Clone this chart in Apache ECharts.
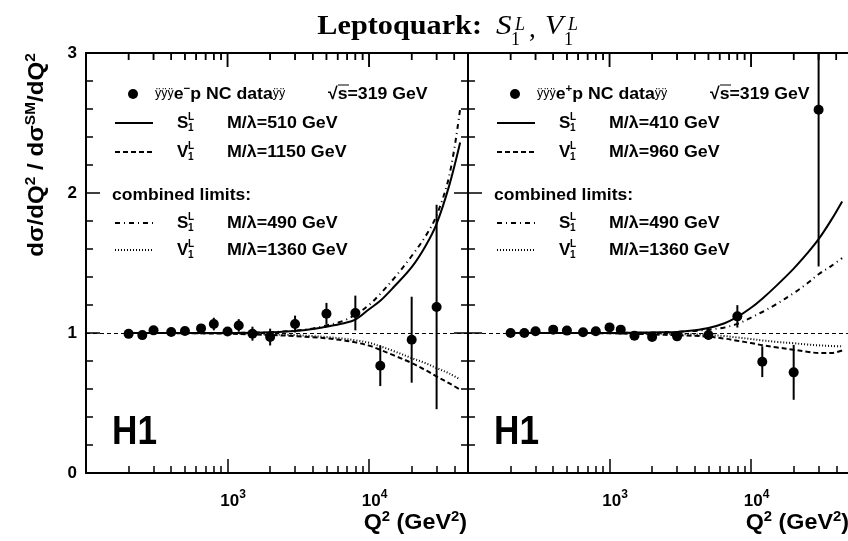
<!DOCTYPE html>
<html>
<head>
<meta charset="utf-8">
<script src="https://cdn.jsdelivr.net/npm/echarts@6/dist/echarts.min.js"></script>
<style>
html, body { margin: 0; padding: 0; background: #fff; }
#chart { width: 848px; height: 541px; }
</style>
</head>
<body>
<div id="chart"></div>
<script>
// Q^2 bins (GeV^2), same for both beams
var q2Bins = [200, 250, 300, 400, 500, 650, 800, 1000, 1200, 1500, 2000, 3000, 5000, 8000, 12000, 20000, 30000];
// e-p data / SM
var ratioEm = [0.994, 0.985, 1.019, 1.007, 1.014, 1.033, 1.064, 1.011, 1.054, 0.995, 0.971, 1.064, 1.138, 1.143, 0.766, 0.952, 1.186];
var errEm   = [0.012, 0.014, 0.015, 0.016, 0.02, 0.025, 0.045, 0.03, 0.045, 0.05, 0.06, 0.06, 0.077, 0.124, 0.145, 0.307, 0.73];
// e+p data / SM
var ratioEp = [1.0, 1.0, 1.012, 1.024, 1.017, 1.005, 1.012, 1.04, 1.024, 0.981, 0.971, 0.976, 0.986, 1.119, 0.795, 0.719, 2.595];
var errEp   = [0.01, 0.012, 0.012, 0.013, 0.014, 0.015, 0.017, 0.018, 0.02, 0.022, 0.025, 0.03, 0.035, 0.08, 0.11, 0.196, 1.12];

// model curves
var q2Curve = [200, 400, 700, 1000, 1500, 2000, 3000, 4000, 5000, 6500, 8000, 10000, 12000, 15000, 20000, 25000, 30000, 37000, 44000];
var emS1     = [1.0, 1.0, 1.0, 1.0, 1.002, 1.005, 1.014, 1.028, 1.045, 1.068, 1.095, 1.17, 1.23, 1.33, 1.47, 1.62, 1.78, 2.06, 2.36];
var emV1     = [1.0, 0.999, 0.997, 0.995, 0.99, 0.986, 0.978, 0.97, 0.962, 0.948, 0.933, 0.91, 0.88, 0.84, 0.786, 0.735, 0.69, 0.64, 0.595];
var emS1comb = [1.0, 1.0, 1.0, 1.0, 1.003, 1.006, 1.017, 1.032, 1.054, 1.085, 1.13, 1.2, 1.28, 1.39, 1.55, 1.69, 1.84, 2.13, 2.6];
var emV1comb = [1.0, 1.0, 0.998, 0.997, 0.993, 0.99, 0.985, 0.978, 0.971, 0.96, 0.948, 0.93, 0.905, 0.87, 0.821, 0.785, 0.75, 0.71, 0.667];
var epS1     = [1.0, 1.0, 1.0, 1.0, 1.002, 1.004, 1.008, 1.02, 1.036, 1.07, 1.115, 1.18, 1.245, 1.335, 1.46, 1.57, 1.67, 1.81, 1.94];
var epV1     = [1.0, 1.0, 0.999, 0.998, 0.994, 0.99, 0.984, 0.98, 0.974, 0.96, 0.945, 0.928, 0.913, 0.898, 0.88, 0.866, 0.857, 0.857, 0.875];
var epS1comb = [1.0, 1.0, 1.0, 1.0, 1.002, 1.003, 1.008, 1.015, 1.024, 1.04, 1.065, 1.11, 1.15, 1.205, 1.285, 1.355, 1.42, 1.48, 1.535];
var epV1comb = [1.0, 1.0, 1.0, 0.999, 0.997, 0.995, 0.992, 0.99, 0.986, 0.978, 0.968, 0.957, 0.947, 0.937, 0.927, 0.918, 0.912, 0.907, 0.905];

// axis ticks
var xMajor = [1000, 10000];
var xMinor = [200, 300, 400, 500, 600, 700, 800, 900, 2000, 3000, 4000, 5000, 6000, 7000, 8000, 9000, 20000, 30000, 40000];
var q2Min = 100, q2Max = 50000;
var yMin = 0, yMax = 3;

// legend text
var beamLabels = ['{y|ÿÿÿ}e{s|−}p NC data{y|ÿÿ}', '{y|ÿÿÿ}e{s|+}p NC data{y|ÿÿ}'];
var massLabels = [
  ['M/λ=510 GeV', 'M/λ=1150 GeV', 'M/λ=490 GeV', 'M/λ=1360 GeV'],
  ['M/λ=410 GeV', 'M/λ=960 GeV', 'M/λ=490 GeV', 'M/λ=1360 GeV']
];

var FONT = 'Liberation Sans, Arial, Helvetica, sans-serif';
var SERIF = 'Liberation Serif, Times New Roman, serif';
var panelX = [86, 468];
var panelW = 382, panelTop = 53, panelH = 420;

var chart = echarts.init(document.getElementById('chart'));

var tickLine = { color: '#000', width: 1.5 };

function logAxis(g, extra) {
  return echarts.util.merge(extra, {
    type: 'log', logBase: 10, min: q2Min, max: q2Max, gridIndex: g, position: 'bottom',
    splitLine: { show: false }, axisLine: { show: false, onZero: false }, axisLabel: { show: false }
  });
}

// g: data grid, tg: thin strip along the top edge (frame line)
function xAxesFor(g, tg) {
  return [
    logAxis(g, {
      axisLine: { show: true, onZero: false, lineStyle: { color: '#000', width: 2 } },
      axisTick: { show: true, inside: true, length: 14, customValues: xMajor, lineStyle: tickLine },
      axisLabel: {
        show: true, customValues: xMajor, margin: 16,
        formatter: function (v) { return '{a|10}{e|' + Math.round(Math.log10(v)) + '}'; },
        rich: {
          a: { fontSize: 17, fontWeight: 'bold', fontFamily: FONT, color: '#000', padding: [0, 0, 0, 11] },
          e: { fontSize: 12, fontWeight: 'bold', fontFamily: FONT, color: '#000', padding: [0, 0, 12, 0] }
        }
      }
    }),
    logAxis(g, { axisTick: { show: true, inside: true, length: 7, customValues: xMinor, lineStyle: tickLine } }),
    logAxis(tg, {
      axisLine: { show: true, onZero: false, lineStyle: { color: '#000', width: 2 } },
      axisTick: { show: false }
    })
  ];
}

function yAxisFor(g, pos, labels) {
  return {
    type: 'value', gridIndex: g, position: pos, min: yMin, max: yMax, interval: 1,
    splitLine: { show: false },
    axisLine: { show: true, onZero: false, lineStyle: { color: '#000', width: 2 } },
    axisTick: { show: true, inside: true, length: 14, lineStyle: { color: '#000', width: 1.5 } },
    minorTick: { show: true, splitNumber: 5, length: 7, lineStyle: { color: '#000', width: 1.5 } },
    axisLabel: { show: labels, margin: 9, color: '#000', fontSize: 17, fontWeight: 'bold', fontFamily: FONT }
  };
}

function hiddenY(g) {
  return { type: 'value', gridIndex: g, min: 0, max: 1, show: false };
}

// mirrored x ticks hanging from the top frame, placed through the log scale
function topTicks(xi, yi, values, yVal, len) {
  return {
    type: 'custom', xAxisIndex: xi, yAxisIndex: yi, z: 20,
    data: values.map(function (v) { return [v, yVal]; }),
    renderItem: function (params, api) {
      var p = api.coord([api.value(0), api.value(1)]);
      return {
        type: 'line',
        shape: { x1: p[0], y1: p[1], x2: p[0], y2: p[1] + len },
        style: { stroke: '#000', lineWidth: 1.5 }
      };
    }
  };
}

function panelSeries(xi, yi, ratio, err, s1, v1, s1c, v1c) {
  var curve = function (vals, dash) {
    return {
      type: 'line', xAxisIndex: xi, yAxisIndex: yi, smooth: 0.35, showSymbol: false, symbol: 'none',
      data: q2Curve.map(function (q, i) { return [q, vals[i]]; }),
      lineStyle: { color: '#000', width: 2, type: dash, opacity: 1 }, z: 2, silent: true
    };
  };
  return [
    curve(s1, 'solid'),
    curve(v1, [5, 3]),
    curve(s1c, [5, 4, 1, 4]),
    curve(v1c, [1, 2]),
    {
      type: 'custom', xAxisIndex: xi, yAxisIndex: yi, z: 3, silent: true,
      data: q2Bins.map(function (q, i) { return [q, ratio[i] - err[i], ratio[i] + err[i]]; }),
      renderItem: function (params, api) {
        var lo = api.coord([api.value(0), api.value(1)]);
        var hi = api.coord([api.value(0), api.value(2)]);
        var cs = params.coordSys;
        return {
          type: 'line',
          shape: { x1: lo[0], y1: Math.min(lo[1], cs.y + cs.height), x2: hi[0], y2: Math.max(hi[1], cs.y) },
          style: { stroke: '#000', lineWidth: 2 }
        };
      }
    },
    {
      type: 'scatter', xAxisIndex: xi, yAxisIndex: yi, z: 4, silent: true,
      symbol: 'circle', symbolSize: 10, itemStyle: { color: '#000', opacity: 1 },
      data: q2Bins.map(function (q, i) { return [q, ratio[i]]; }),
      markLine: {
        silent: true, symbol: 'none', label: { show: false },
        lineStyle: { color: '#000', width: 1, type: [4, 3], opacity: 1 },
        data: [{ yAxis: 1 }]
      }
    },
    topTicks(xi, yi, xMajor, yMax, 14),
    topTicks(xi, yi, xMinor, yMax, 7)
  ];
}

function txt(x, y, text, size, o) {
  o = o || {};
  var align = o.align || 'left', va = o.va || 'middle';
  return {
    type: 'text', x: x, y: y, rotation: o.rot || 0, scaleX: o.sx || 1, silent: true, z: 10,
    style: {
      text: text, fill: '#000', fontSize: size, fontWeight: o.weight || 'bold',
      fontFamily: o.family || FONT, fontStyle: o.italic ? 'italic' : 'normal',
      align: align, textAlign: align, verticalAlign: va, textVerticalAlign: va, rich: o.rich
    }
  };
}

function symbolText(x, y, letter) {
  return [
    txt(x, y, letter, 17),
    txt(x + 11, y - 6, 'L', 10),
    txt(x + 11, y + 5, '1', 10)
  ];
}

function legendBlock(p) {
  var ox = p * 382;
  var els = [];
  var rows = [123, 152, 223, 250];
  var dashes = [null, [5, 3], [5, 4, 1, 4], [1, 2]];
  var letters = ['S', 'V', 'S', 'V'];
  els.push({ type: 'circle', silent: true, z: 10, shape: { cx: ox + 133, cy: 94, r: 5 }, style: { fill: '#000' } });
  els.push(txt(ox + 155, 94, beamLabels[p], 17, {
    sx: 1.04,
    rich: {
      y: { fontSize: 12, fontFamily: FONT, fontWeight: 'normal', color: '#000' },
      s: { fontSize: 11, fontFamily: FONT, fontWeight: 'bold', color: '#000', padding: [0, 0, 10, 0] }
    }
  }));
  els.push(txt(ox + 328, 94, '√s=319 GeV', 17, { sx: 1.04 }));
  els.push({ type: 'line', silent: true, z: 10, shape: { x1: ox + 338, y1: 85, x2: ox + 349, y2: 85 }, style: { stroke: '#000', lineWidth: 1 } });
  for (var i = 0; i < 4; i++) {
    els.push({
      type: 'line', silent: true, z: 10,
      shape: { x1: ox + 115, y1: rows[i], x2: ox + 153, y2: rows[i] },
      style: { stroke: '#000', lineWidth: 2, lineDash: dashes[i] }
    });
    els = els.concat(symbolText(ox + 177, rows[i], letters[i]));
    els.push(txt(ox + 227, rows[i], massLabels[p][i], 17, { sx: 1.05 }));
  }
  els.push(txt(ox + 112, 195, 'combined limits:', 17, { sx: 1.03 }));
  els.push(txt(ox + 112, 433, 'H1', 40, { sx: 0.88 }));
  els.push(txt(panelX[p] + panelW - 1, 523, 'Q{s|2} (GeV{s|2})', 22, {
    align: 'right', sx: 1.06,
    rich: { s: { fontSize: 14, fontWeight: 'bold', fontFamily: FONT, color: '#000', padding: [0, 0, 12, 0] } }
  }));
  return els;
}

var graphics = [];
// title
graphics.push(txt(482, 27, 'Leptoquark:', 27, { align: 'right', family: SERIF, sx: 1.12 }));
graphics.push(txt(496, 27, 'S', 27, { family: SERIF, italic: true, weight: 'normal', sx: 1.15 }));
graphics.push(txt(515, 25, 'L', 18, { family: SERIF, italic: true, weight: 'normal' }));
graphics.push(txt(511, 40, '1', 18, { family: SERIF, weight: 'normal' }));
graphics.push(txt(529, 30, ',', 27, { family: SERIF, weight: 'normal' }));
graphics.push(txt(545, 27, 'V', 27, { family: SERIF, italic: true, weight: 'normal', sx: 1.1 }));
graphics.push(txt(568, 25, 'L', 18, { family: SERIF, italic: true, weight: 'normal' }));
graphics.push(txt(564, 40, '1', 18, { family: SERIF, weight: 'normal' }));
// y title
graphics.push(txt(37, 155, 'dσ/dQ{s|2} / dσ{s|SM}/dQ{s|2}', 22, {
  align: 'center', rot: Math.PI / 2, sx: 1.1,
  rich: { s: { fontSize: 14, fontWeight: 'bold', fontFamily: FONT, color: '#000', padding: [0, 0, 12, 0] } }
}));
graphics = graphics.concat(legendBlock(0), legendBlock(1));

// ticks along the top strips (strip y axis: 0 = top frame of the panel)
var stripTicks = [
  topTicks(2, 3, xMajor, 0, 14), topTicks(2, 3, xMinor, 0, 7),
  topTicks(5, 4, xMajor, 0, 14), topTicks(5, 4, xMinor, 0, 7)
];

var option = {
  backgroundColor: '#fff',
  animation: false,
  grid: [
    { left: panelX[0], top: panelTop, width: panelW, height: panelH, show: false, outerBoundsMode: 'none' },
    { left: panelX[1], top: panelTop, width: panelW, height: panelH, show: false, outerBoundsMode: 'none' },
    { left: panelX[0], top: panelTop - 1, width: panelW, height: 1, show: false, outerBoundsMode: 'none' },
    { left: panelX[1], top: panelTop - 1, width: panelW, height: 1, show: false, outerBoundsMode: 'none' }
  ],
  xAxis: xAxesFor(0, 2).concat(xAxesFor(1, 3)),
  yAxis: [
    yAxisFor(0, 'left', true),
    yAxisFor(0, 'right', false),
    yAxisFor(1, 'left', false),
    hiddenY(2),
    hiddenY(3)
  ],
  series: stripTicks
    .concat(panelSeries(0, 0, ratioEm, errEm, emS1, emV1, emS1comb, emV1comb))
    .concat(panelSeries(3, 2, ratioEp, errEp, epS1, epV1, epS1comb, epV1comb)),
  graphic: graphics
};
chart.setOption(option);
</script>
</body>
</html>
